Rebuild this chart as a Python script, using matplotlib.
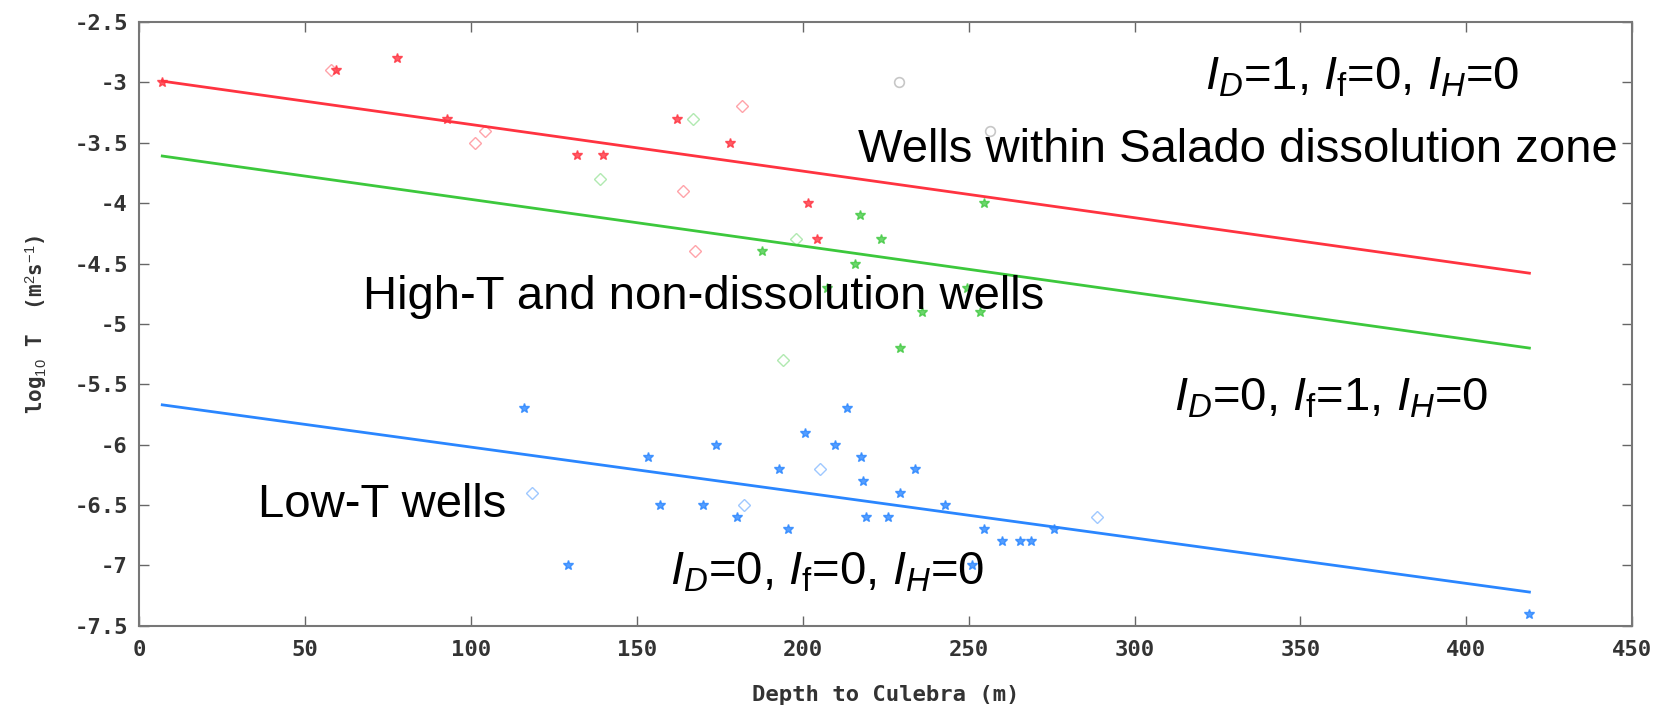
import matplotlib
matplotlib.use('Agg')
import matplotlib.pyplot as plt

# regression lines: end points (depth, log10 T)
depth_fit = [7, 419]
logT_fit_dissolution = [-2.99, -4.58]
logT_fit_hight = [-3.61, -5.20]
logT_fit_lowt = [-5.67, -7.22]

# red: wells within Salado dissolution zone
red_x = [7, 59.5, 77.7, 92.7, 131.9, 139.7, 162.2, 178.1, 201.5, 204.2]
red_y = [-3.0, -2.9, -2.8, -3.3, -3.6, -3.6, -3.3, -3.5, -4.0, -4.3]
red_open_x = [58, 101.3, 104.3, 164, 167.6, 181.6]
red_open_y = [-2.9, -3.5, -3.4, -3.9, -4.4, -3.2]
grey_open_x = [229.1, 256.5]
grey_open_y = [-3.0, -3.4]

# green: high-T and non-dissolution wells
green_x = [187.6, 217.3, 223.6, 215.8, 254.5, 207.4, 249.4, 235.9, 253.4, 229.4]
green_y = [-4.4, -4.1, -4.3, -4.5, -4.0, -4.7, -4.7, -4.9, -4.9, -5.2]
green_open_x = [139, 167, 198, 194.2]
green_open_y = [-3.8, -3.3, -4.3, -5.3]

# blue: low-T wells
blue_x = [116, 129.4, 153.3, 157, 170.1, 173.8, 180.3, 192.9, 195.7, 200.8,
          209.6, 213.3, 217.5, 218.1, 233.9, 229.3, 219.1, 225.8, 242.9, 254.7,
          260.2, 265.5, 268.8, 250.9, 275.6, 418.8]
blue_y = [-5.7, -7.0, -6.1, -6.5, -6.5, -6.0, -6.6, -6.2, -6.7, -5.9,
          -6.0, -5.7, -6.1, -6.3, -6.2, -6.4, -6.6, -6.6, -6.5, -6.7,
          -6.8, -6.8, -6.8, -7.0, -6.7, -7.4]
blue_open_x = [118.4, 182.4, 205.3, 288.6]
blue_open_y = [-6.4, -6.5, -6.2, -6.6]

RED = '#ff3340'
GREEN = '#3cc83c'
BLUE = '#2a86ff'

matplotlib.rcParams['mathtext.fontset'] = 'custom'
matplotlib.rcParams['mathtext.rm'] = 'Liberation Sans'
matplotlib.rcParams['mathtext.it'] = 'Liberation Sans:italic'

fig1, ax1 = plt.subplots(1, 1, figsize=(16.69, 7.08), dpi=100)
fig1.subplots_adjust(left=0.0833, right=0.978, top=0.969, bottom=0.116)

# lines
ax1.plot(depth_fit, logT_fit_dissolution, '-', color=RED, lw=2)
ax1.plot(depth_fit, logT_fit_hight, '-', color=GREEN, lw=2)
ax1.plot(depth_fit, logT_fit_lowt, '-', color=BLUE, lw=2)

# points
ax1.plot(red_x, red_y, '*', color=RED, ms=7, alpha=0.8, ls='none')
ax1.plot(red_open_x, red_open_y, 'D', mfc='none', mec=RED, ms=6, mew=1, alpha=0.45, ls='none')
ax1.plot(grey_open_x, grey_open_y, 'o', mfc='none', mec='#999999', ms=7, mew=1.2, alpha=0.55, ls='none')
ax1.plot(green_x, green_y, '*', color=GREEN, ms=7, alpha=0.75, ls='none')
ax1.plot(green_open_x, green_open_y, 'D', mfc='none', mec=GREEN, ms=6, mew=1, alpha=0.4, ls='none')
ax1.plot(blue_x, blue_y, '*', color=BLUE, ms=7, alpha=0.8, ls='none')
ax1.plot(blue_open_x, blue_open_y, 'D', mfc='none', mec=BLUE, ms=6, mew=1, alpha=0.45, ls='none')

# axes
ax1.set_xlim(0, 450)
ax1.set_ylim(-7.5, -2.5)
ax1.set_xticks(range(0, 451, 50))
ax1.set_yticks([-7.5, -7, -6.5, -6, -5.5, -5, -4.5, -4, -3.5, -3, -2.5])
ax1.set_yticklabels(['-7.5', '-7', '-6.5', '-6', '-5.5', '-5', '-4.5', '-4', '-3.5', '-3', '-2.5'])
ax1.tick_params(direction='in', length=7, width=1, color='#666666', top=True, right=True,
                labelsize=16, labelcolor='#333333')
ax1.tick_params(axis='x', pad=10)
ax1.tick_params(axis='y', pad=8)
for lab in ax1.get_xticklabels() + ax1.get_yticklabels():
    lab.set_fontfamily('DejaVu Sans Mono')
    lab.set_fontweight('bold')
for it1 in ['top', 'bottom', 'left', 'right']:
    ax1.spines[it1].set_color('#777777')
    ax1.spines[it1].set_linewidth(1.5)

ax1.set_xlabel('Depth to Culebra (m)', family='DejaVu Sans Mono', fontsize=16, fontweight='bold',
               color='#333333', labelpad=18)
ax1.set_ylabel(r'log$_{10}$ T  (m$^2$s$^{-1}$)', family='DejaVu Sans Mono', fontsize=15,
               fontweight='bold', color='#333333', labelpad=18)

# annotations
txt = dict(family='Liberation Sans', fontsize=34, color='black', ha='center', va='baseline')
ax1.text(368.6, -3.06, r'$I_D$=1, $I_{\mathrm{f}}$=0, $I_H$=0', **txt)
ax1.text(331, -3.66, 'Wells within Salado dissolution zone', **txt)
ax1.text(170.2, -4.88, 'High-T and non-dissolution wells', **txt)
ax1.text(359.3, -5.72, r'$I_D$=0, $I_{\mathrm{f}}$=1, $I_H$=0', **txt)
ax1.text(73.2, -6.595, 'Low-T wells', **txt)
ax1.text(207.4, -7.16, r'$I_D$=0, $I_{\mathrm{f}}$=0, $I_H$=0', **txt)

fig1.savefig('out.png', dpi=100)
